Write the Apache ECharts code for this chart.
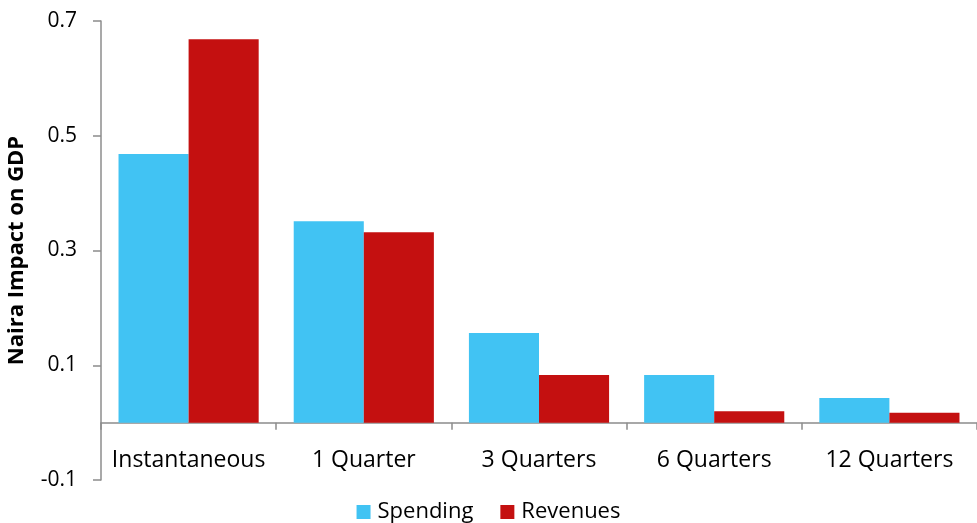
<!DOCTYPE html>
<html>
<head>
<meta charset="utf-8">
<script src="https://cdn.jsdelivr.net/npm/echarts@6/dist/echarts.min.js"></script>
<style>
  html, body { margin: 0; padding: 0; background: #fff; }
  #chart { width: 977px; height: 523px; }
</style>
</head>
<body>
<div id="chart"></div>
<script>
const categories = ['Instantaneous', '1 Quarter', '3 Quarters', '6 Quarters', '12 Quarters'];
const spending = [0.468, 0.351, 0.156, 0.083, 0.043];
const revenues = [0.668, 0.332, 0.083, 0.020, 0.017];
const yTicks = [-0.1, 0.1, 0.3, 0.5, 0.7];

const font = 'Open Sans';
const axisGray = '#8c8c8c';

const gridTop = 21, gridBottom = 43, chartH = 523;
const yMin = yTicks[0], yMax = yTicks[yTicks.length - 1];
// the category axis sits on the zero line, lift it there from the grid bottom
const plotH = chartH - gridTop - gridBottom;
const zeroLift = (0 - yMin) / (yMax - yMin) * plotH;

const chart = echarts.init(document.getElementById('chart'), null, { renderer: 'canvas' });

chart.setOption({
  animation: false,
  backgroundColor: '#fff',
  textStyle: { fontFamily: font },
  grid: { left: 101, right: 0, top: gridTop, bottom: gridBottom, containLabel: false, outerBoundsMode: 'none' },
  legend: {
    bottom: -5,
    left: 'center',
    itemWidth: 14,
    itemHeight: 14,
    itemGap: 27,
    icon: 'rect',
    textStyle: { fontFamily: font, fontSize: 22, color: '#000', padding: [0, 0, 0, 2] },
    data: ['Spending', 'Revenues']
  },
  xAxis: {
    type: 'category',
    data: categories,
    position: 'bottom',
    offset: -zeroLift,
    axisLine: { onZero: false, lineStyle: { color: axisGray, width: 1.5 } },
    axisTick: { show: true, alignWithLabel: false, length: 7, lineStyle: { color: axisGray, width: 1.5 } },
    axisLabel: { fontFamily: font, fontSize: 23, color: '#000', margin: 26, interval: 0 },
    splitLine: { show: false }
  },
  yAxis: {
    type: 'value',
    min: yMin,
    max: yMax,
    interval: 0.2,
    name: 'Naira Impact on GDP',
    nameLocation: 'middle',
    nameGap: 73,
    nameTextStyle: { fontFamily: font, fontSize: 22, fontWeight: 'bold', color: '#000' },
    axisLine: { show: true, lineStyle: { color: axisGray, width: 1.5 } },
    axisTick: { show: true, length: 8, lineStyle: { color: axisGray, width: 1.5 } },
    axisLabel: {
      fontFamily: font, fontSize: 21, color: '#000', margin: 24,
      formatter: v => v.toFixed(1)
    },
    splitLine: { show: false }
  },
  series: [
    {
      name: 'Spending',
      type: 'bar',
      data: spending,
      barGap: '0%',
      barCategoryGap: '20%',
      itemStyle: { color: '#41c3f3' }
    },
    {
      name: 'Revenues',
      type: 'bar',
      data: revenues,
      barGap: '0%',
      barCategoryGap: '20%',
      itemStyle: { color: '#c41010' }
    }
  ]
});
</script>
</body>
</html>
